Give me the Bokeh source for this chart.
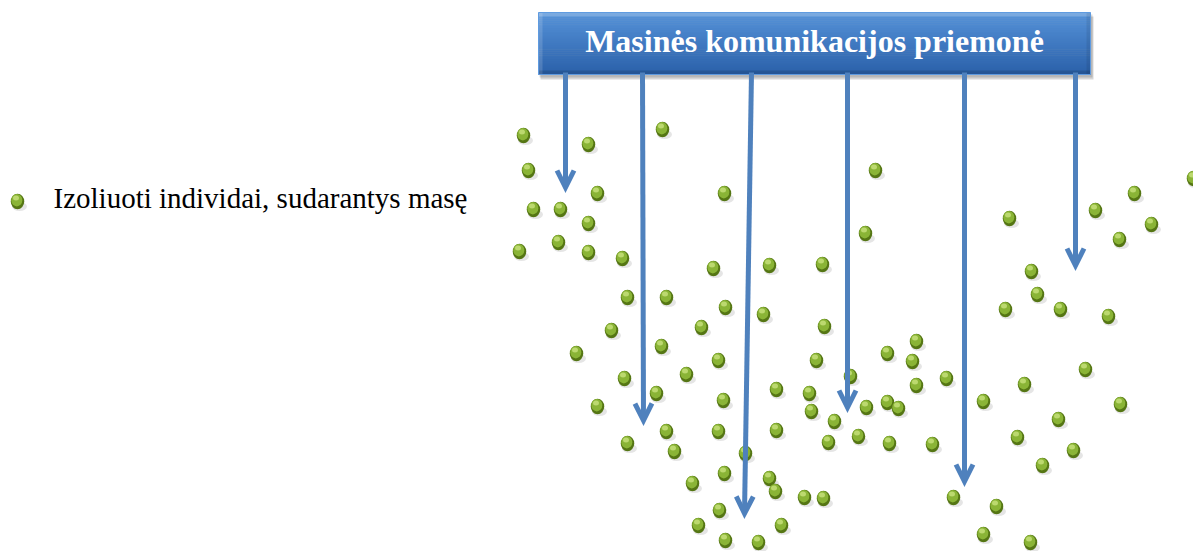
from bokeh.plotting import figure
from bokeh.models import Range1d, Arrow, OpenHead, ColumnDataSource
from bokeh.core.properties import value
from bokeh.embed import file_html
from bokeh.resources import INLINE

# ---- data ----
title_text = "Masinės komunikacijos priemonė"
legend_text = "Izoliuoti individai, sudarantys masę"

dot_x = [523, 588, 662, 528, 597, 533, 560, 588, 558, 519, 588, 622, 724, 713, 627, 666, 725, 611, 701,
         875, 865, 769, 822, 763, 824,
         1009, 1095, 1134, 1151, 1119, 1031, 1037, 1005, 1060, 1108, 1193,
         576, 661, 718, 624, 686, 656, 597, 723, 666, 718, 627, 674, 692, 724, 719, 698, 725,
         816, 887, 916, 912, 946, 916, 776, 809, 850, 811, 834, 866, 887, 898, 776, 828, 858, 889, 932,
         745, 769, 775, 804, 823, 953, 781, 758,
         1085, 1024, 983, 1120, 1058, 1017, 1073, 1042, 996, 983, 1030]
dot_y = [135, 144, 129, 170, 193, 209, 209, 223, 242, 251, 252, 258, 193, 268, 297, 297, 307, 330, 327,
         170, 233, 265, 264, 314, 326,
         218, 210, 193, 224, 239, 271, 294, 309, 309, 316, 178,
         353, 346, 360, 378, 374, 393, 406, 400, 431, 431, 443, 451, 483, 473, 510, 525, 540,
         360, 353, 341, 361, 378, 385, 389, 393, 376, 411, 421, 407, 402, 408, 430, 442, 436, 443, 444,
         453, 478, 491, 497, 498, 497, 525, 542,
         369, 384, 401, 404, 419, 437, 450, 465, 506, 534, 542]

arrow_x0 = [565, 642, 751, 847, 964, 1075]
arrow_x1 = [565, 643, 744, 847, 964, 1075]
arrow_y1 = [187, 420, 513, 407, 481, 265]

# ---- layout constants ----
W, H = 1193, 551
BOX_L, BOX_R, BOX_T, BOX_B = 538, 1090, 12, 74
ARROW_COLOR = "#4f81bd"

p = figure(width=W, height=H, output_backend="svg", toolbar_location=None,
           x_range=Range1d(0, W), y_range=Range1d(H, 0),
           min_border=0, outline_line_color=None, background_fill_color="white")
p.axis.visible = False
p.grid.visible = False

# arrows
for x0, x1, y1 in zip(arrow_x0, arrow_x1, arrow_y1):
    p.add_layout(Arrow(end=OpenHead(size=17, line_width=5, line_color=ARROW_COLOR,
                                    line_join="miter"),
                       x_start=x0, y_start=BOX_B - 2, x_end=x1, y_end=y1,
                       line_width=5, line_color=ARROW_COLOR))

# box shadow
p.quad(left=BOX_L + 2, right=BOX_R + 3, top=BOX_T + 4, bottom=BOX_B + 5,
       fill_color="#000000", fill_alpha=0.16, line_color=None)
p.quad(left=BOX_L + 1, right=BOX_R + 2, top=BOX_T + 2, bottom=BOX_B + 3,
       fill_color="#000000", fill_alpha=0.14, line_color=None)

# box gradient
def lerp(c1, c2, t):
    a = [int(c1[i:i + 2], 16) for i in (1, 3, 5)]
    b = [int(c2[i:i + 2], 16) for i in (1, 3, 5)]
    return "#%02x%02x%02x" % tuple(int(round(a[k] + (b[k] - a[k]) * t)) for k in range(3))

N = 32
strip_top, strip_bot, strip_col = [], [], []
for i in range(N):
    t0 = BOX_T + (BOX_B - BOX_T) * i / N
    t1 = BOX_T + (BOX_B - BOX_T) * (i + 1) / N
    strip_top.append(t0)
    strip_bot.append(t1 + 0.5)
    strip_col.append(lerp("#5592d8", "#2b61aa", i / (N - 1)))
p.quad(left=BOX_L, right=BOX_R, top=strip_top, bottom=strip_bot,
       fill_color=strip_col, line_color=None)
# bevel rims
p.quad(left=BOX_L, right=BOX_R, top=BOX_T, bottom=BOX_T + 4,
       fill_color="#ffffff", fill_alpha=0.22, line_color=None)
p.quad(left=BOX_L, right=BOX_L + 4, top=BOX_T, bottom=BOX_B,
       fill_color="#ffffff", fill_alpha=0.15, line_color=None)
p.quad(left=BOX_L, right=BOX_R, top=BOX_B - 4, bottom=BOX_B,
       fill_color="#000000", fill_alpha=0.12, line_color=None)
p.quad(left=BOX_R - 4, right=BOX_R, top=BOX_T, bottom=BOX_B,
       fill_color="#000000", fill_alpha=0.08, line_color=None)
p.quad(left=BOX_L, right=BOX_R, top=BOX_T, bottom=BOX_B,
       fill_color=None, line_color="#5f9be0", line_width=1)

p.text(x=[(BOX_L + BOX_R) / 2], y=[40], text=[title_text],
       text_font=value("Liberation Serif"), text_font_style="bold",
       text_font_size="32px", text_color="white",
       text_align="center", text_baseline="alphabetic")

# dots
def draw_dots(xs, ys):
    src = ColumnDataSource(dict(x=xs, y=ys,
                                sx=[v + 2 for v in xs], sy=[v + 5 for v in ys],
                                mx=[v - 0.7 for v in xs], my=[v - 1.3 for v in ys],
                                hx=[v - 1.5 for v in xs], hy=[v - 3.5 for v in ys]))
    p.ellipse(x="sx", y="sy", width=15, height=9, source=src,
              fill_color="#000000", fill_alpha=0.10, line_color=None)
    p.ellipse(x="x", y="y", width=13.5, height=15.5, source=src,
              fill_color="#557614", line_color=None)
    p.ellipse(x="mx", y="my", width=11, height=12.5, source=src,
              fill_color="#8ab436", line_color=None)
    p.ellipse(x="hx", y="hy", width=6, height=5, source=src,
              fill_color="#c8e27e", fill_alpha=0.8, line_color=None)

draw_dots(dot_x, dot_y)
draw_dots([17], [201])

p.text(x=[53], y=[197], text=[legend_text],
       text_font=value("Liberation Serif"), text_font_size="29px",
       text_color="black", text_align="left", text_baseline="alphabetic")

open("out.html", "w").write(file_html(p, INLINE))
